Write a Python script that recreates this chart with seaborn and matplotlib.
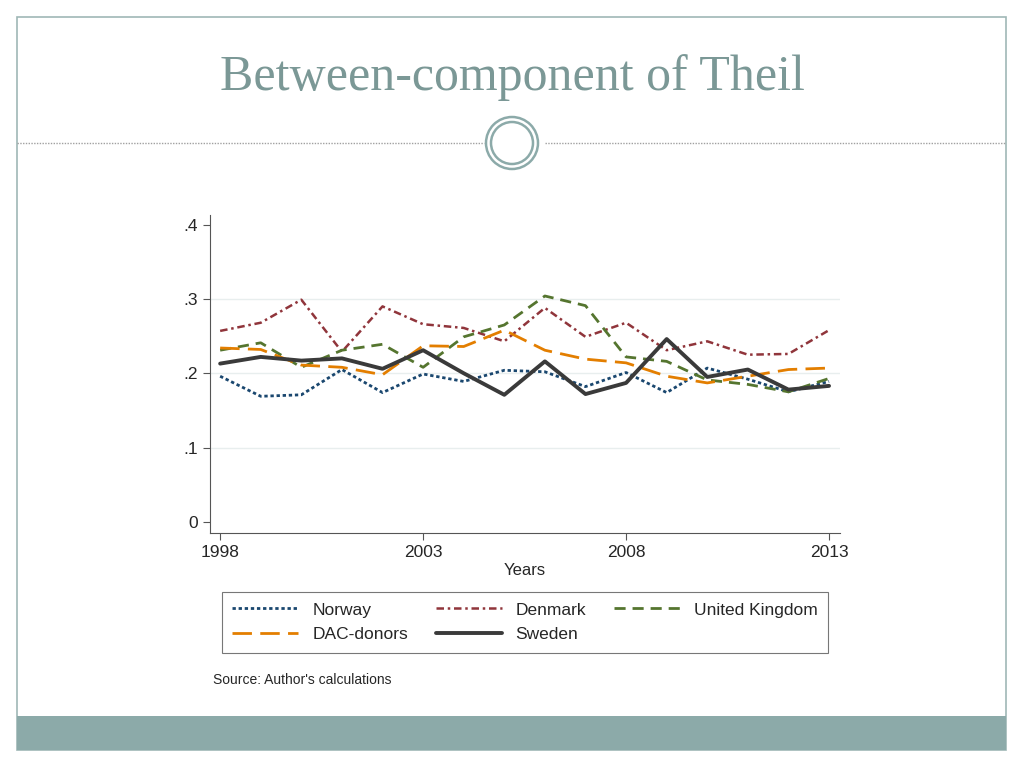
import numpy as np
import pandas as pd
import matplotlib.pyplot as plt
import seaborn as sns
from matplotlib.patches import Rectangle, Circle
from matplotlib.lines import Line2D

years = list(range(1998, 2014))
norway = [0.196, 0.169, 0.171, 0.205, 0.174, 0.199, 0.189, 0.204, 0.202, 0.182, 0.201, 0.174, 0.207, 0.192, 0.175, 0.189]
denmark = [0.257, 0.268, 0.299, 0.229, 0.290, 0.266, 0.261, 0.243, 0.288, 0.249, 0.268, 0.231, 0.243, 0.225, 0.226, 0.258]
uk = [0.231, 0.241, 0.208, 0.231, 0.239, 0.208, 0.249, 0.265, 0.304, 0.291, 0.222, 0.216, 0.191, 0.185, 0.175, 0.193]
dac = [0.234, 0.232, 0.211, 0.208, 0.198, 0.237, 0.236, 0.258, 0.231, 0.219, 0.214, 0.196, 0.187, 0.196, 0.205, 0.207]
sweden = [0.213, 0.222, 0.217, 0.220, 0.206, 0.231, 0.200, 0.171, 0.216, 0.172, 0.187, 0.246, 0.195, 0.205, 0.178, 0.183]

series = {"Norway": norway, "Denmark": denmark, "United Kingdom": uk,
          "DAC-donors": dac, "Sweden": sweden}
colors = {"Norway": "#1a476f", "Denmark": "#90353b", "United Kingdom": "#55752f",
          "DAC-donors": "#e37e00", "Sweden": "#3a3a3a"}
dashes = {"Norway": (1.2, 1.0), "Denmark": (3, 1.5, 1, 1.5), "United Kingdom": (4, 2.5),
          "DAC-donors": (7, 3), "Sweden": ""}
widths = {"Norway": 2.0, "Denmark": 1.8, "United Kingdom": 2.0, "DAC-donors": 2.0, "Sweden": 2.8}

df = pd.DataFrame([(y, name, v) for name, vals in series.items() for y, v in zip(years, vals)],
                  columns=["Years", "Series", "Value"])

sns.set_style("white")
plt.rcParams['font.family'] = ['Liberation Sans', 'DejaVu Sans']

fig = plt.figure(figsize=(10.24, 7.68), dpi=100)

# slide decorations
fig.patches.append(Rectangle((17/1024, 1-750/768), 989/1024, 733/768, transform=fig.transFigure,
                             fill=False, edgecolor="#9fb8b6", linewidth=1.2))
fig.patches.append(Rectangle((17/1024, 1-750/768), 989/1024, 34/768, transform=fig.transFigure,
                             facecolor="#8caaa9", edgecolor="none"))
fig.lines.append(Line2D([17/1024, 484/1024], [1-143/768]*2, transform=fig.transFigure,
                        color="#a0a0a0", linestyle=(0, (1, 1)), linewidth=1))
fig.lines.append(Line2D([545/1024, 1006/1024], [1-143/768]*2, transform=fig.transFigure,
                        color="#a0a0a0", linestyle=(0, (1, 1)), linewidth=1))
fig.text(0.5, 1-78/768, "Between-component of Theil", ha="center", va="center",
         fontsize=36, color="#7b9896", family=["Liberation Serif", "DejaVu Serif"])

ax = fig.add_axes([210/1024, 1-533/768, 630/1024, 318/768])
for name in series:
    sub = df[df["Series"] == name]
    sns.lineplot(data=sub, x="Years", y="Value", ax=ax, color=colors[name],
                 linewidth=widths[name], dashes=False, label=name)
    ln = ax.lines[-1]
    if dashes[name]:
        ln.set_dashes(dashes[name])

ax.set_xlim(1997.75, 2013.27)
ax.set_ylim(-0.015, 0.413)
ax.set_xticks([1998, 2003, 2008, 2013])
ax.set_yticks([0, 0.1, 0.2, 0.3, 0.4])
ax.set_yticklabels(["0", ".1", ".2", ".3", ".4"])
for g in [0.1, 0.2, 0.3]:
    ax.axhline(g, color="#e8eeee", linewidth=1, zorder=0)
ax.set_xlabel("Years", fontsize=12, labelpad=2)
ax.set_ylabel("")
for s in ["top", "right"]:
    ax.spines[s].set_visible(False)
for s in ["left", "bottom"]:
    ax.spines[s].set_color("#555555")
ax.tick_params(axis="both", direction="out", length=5, color="#555555", labelsize=12.5, left=True, bottom=True)

handles = {l.get_label(): l for l in ax.lines if l.get_label() in series}
order = ["Norway", "DAC-donors", "Denmark", "Sweden", "United Kingdom"]
ax.get_legend().remove()
leg = fig.legend([handles[n] for n in order], order, loc="upper left",
                 bbox_to_anchor=(222/1024, 1-650/768, 606/1024, 58/768), mode="expand",
                 borderaxespad=0, ncol=3, fontsize=12.5, frameon=True, fancybox=False,
                 handlelength=3.8, handletextpad=0.8, borderpad=0.6, labelspacing=0.55)
leg.get_frame().set_edgecolor("#555555")
leg.get_frame().set_linewidth(0.8)

fig.text(213/1024, 1-680/768, "Source: Author's calculations", fontsize=10, va="center")

# double circle in front of the dotted rule
ax2 = fig.add_axes([0, 0, 1, 1], facecolor="none")
ax2.set_xlim(0, 1024)
ax2.set_ylim(768, 0)
ax2.axis("off")
ax2.add_patch(Circle((512, 143), 26, facecolor="white", edgecolor="#8caaa9", linewidth=1.8))
ax2.add_patch(Circle((512, 143), 21, facecolor="white", edgecolor="#8caaa9", linewidth=1.8))
ax2.set_aspect("equal", adjustable="datalim")

plt.savefig("out.png", dpi=100)
